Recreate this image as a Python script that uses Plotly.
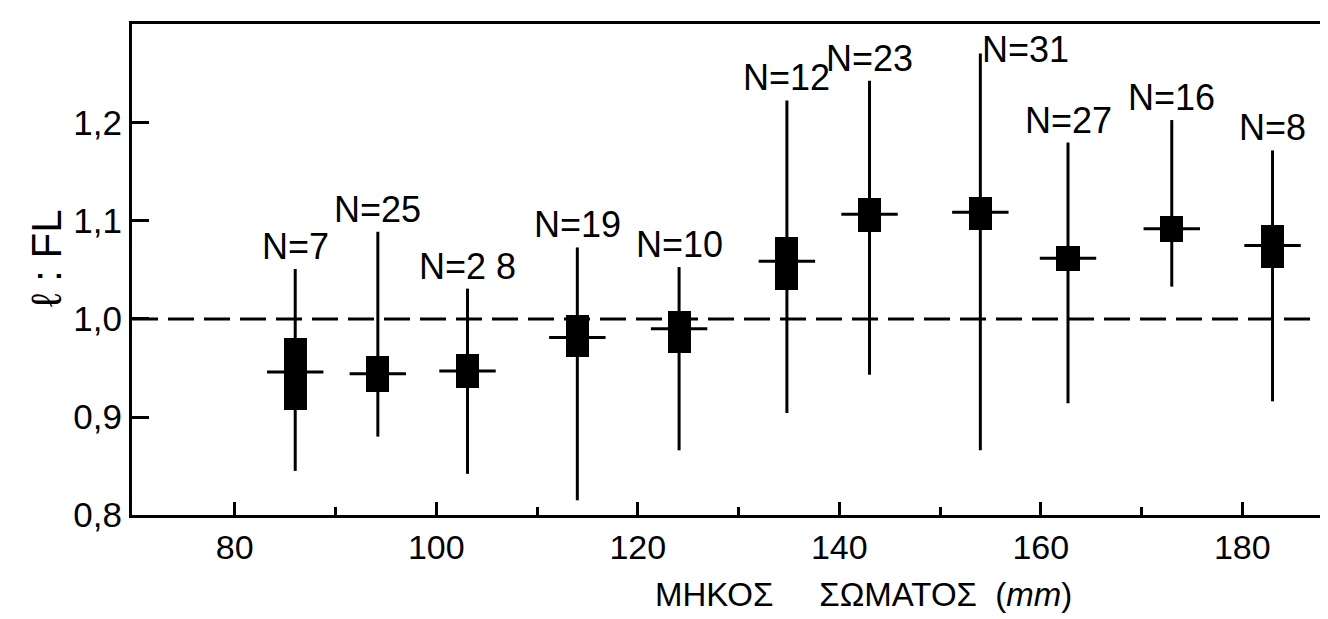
import plotly.graph_objects as go

# ---- data ----
body_length = [86.0, 94.2, 103.1, 114.0, 124.1, 134.8, 143.0, 154.0, 162.7, 173.0, 183.0]
n_labels = ["N=7", "N=25", "N=2 8", "N=19", "N=10", "N=12", "N=23", "N=31", "N=27", "N=16", "N=8"]
ratio_max = [1.051, 1.089, 1.031, 1.073, 1.053, 1.223, 1.243, 1.271, 1.180, 1.203, 1.172]
ratio_min = [0.845, 0.880, 0.842, 0.815, 0.866, 0.904, 0.943, 0.866, 0.914, 1.033, 0.916]
box_high = [0.981, 0.962, 0.964, 1.004, 1.008, 1.084, 1.123, 1.124, 1.074, 1.105, 1.096]
box_low = [0.907, 0.926, 0.930, 0.961, 0.965, 1.030, 1.089, 1.091, 1.049, 1.079, 1.052]
ratio_mean = [0.946, 0.944, 0.947, 0.981, 0.990, 1.059, 1.107, 1.109, 1.062, 1.092, 1.075]

y_tick_vals = [0.8, 0.9, 1.0, 1.1, 1.2]
y_tick_text = ["0,8", "0,9", "1,0", "1,1", "1,2"]
x_tick_vals = [80, 100, 120, 140, 160, 180]
x_tick_text = ["80", "100", "120", "140", "160", "180"]

FONT = "Liberation Sans, Arial, sans-serif"

fig = go.Figure()

# boxes
fig.add_trace(go.Bar(
    x=body_length,
    y=[h - l for h, l in zip(box_high, box_low)],
    base=box_low,
    width=2.3,
    marker=dict(color="black", line=dict(width=0)),
    showlegend=False,
    hoverinfo="skip",
))

# whiskers (range) and mean cross-line
fig.add_trace(go.Scatter(
    x=body_length,
    y=ratio_mean,
    mode="markers",
    marker=dict(size=1, color="black", opacity=0),
    error_y=dict(
        type="data", symmetric=False,
        array=[u - m for u, m in zip(ratio_max, ratio_mean)],
        arrayminus=[m - l for m, l in zip(ratio_mean, ratio_min)],
        width=0, thickness=3, color="black",
    ),
    error_x=dict(type="constant", value=2.8, width=0, thickness=3, color="black"),
    showlegend=False,
))

# N labels
for x, top, lab in zip(body_length, ratio_max, n_labels):
    if lab == "N=31":
        fig.add_annotation(x=x, y=top, text=lab, showarrow=False, xanchor="left",
                           yanchor="middle", xshift=0, yshift=4,
                           font=dict(size=36, family=FONT, color="black"))
    else:
        fig.add_annotation(x=x, y=top, text=lab, showarrow=False, xanchor="center",
                           yanchor="bottom", yshift=0,
                           font=dict(size=36, family=FONT, color="black"))

# dashed reference line at 1,0
fig.add_shape(type="line", xref="paper", x0=0, x1=1, yref="y", y0=1.0, y1=1.0,
              line=dict(color="black", width=3, dash="26px,10px"))

# axis titles
fig.add_annotation(xref="paper", yref="paper", x=(38 - 124) / 1204, y=(507 - 250) / 491,
                   xanchor="center", yanchor="middle",
                   text="ℓ : FL", textangle=-90, showarrow=False,
                   font=dict(size=42, family=FONT, color="black"))
fig.add_annotation(xref="paper", yref="paper", x=(645 - 124) / 1204, y=-(586 - 507) / 491,
                   xanchor="left", yanchor="middle",
                   text="ΜΗΚΟΣ     ΣΩΜΑΤΟΣ  (<i>mm</i>)", showarrow=False,
                   font=dict(size=33, family=FONT, color="black"))

fig.update_layout(
    width=1328, height=619,
    margin=dict(l=124, r=0, t=16, b=112, autoexpand=False),
    paper_bgcolor="white", plot_bgcolor="white",
    font=dict(family=FONT, size=34, color="black"),
    bargap=0,
    xaxis=dict(
        range=[69.8, 189.3], showgrid=False, zeroline=False,
        showline=True, linecolor="black", linewidth=3, mirror=True,
        tickmode="array", tickvals=x_tick_vals, ticktext=x_tick_text,
        ticks="inside", ticklen=13, tickwidth=2.5, tickcolor="black",
        minor=dict(tickmode="array", tickvals=[90, 110, 130, 150, 170],
                   ticks="inside", ticklen=8, tickwidth=2.5, tickcolor="black"),
        ticklabelstandoff=0,
        tickfont=dict(size=34, family=FONT, color="black"),
    ),
    yaxis=dict(
        range=[0.8, 1.301], showgrid=False, zeroline=False,
        showline=True, linecolor="black", linewidth=3, mirror=False,
        tickmode="array", tickvals=y_tick_vals, ticktext=y_tick_text,
        ticks="inside", ticklen=17, tickwidth=3, tickcolor="black",
        tickfont=dict(size=35, family=FONT, color="black"),
    ),
)

fig.write_html("out.html")
